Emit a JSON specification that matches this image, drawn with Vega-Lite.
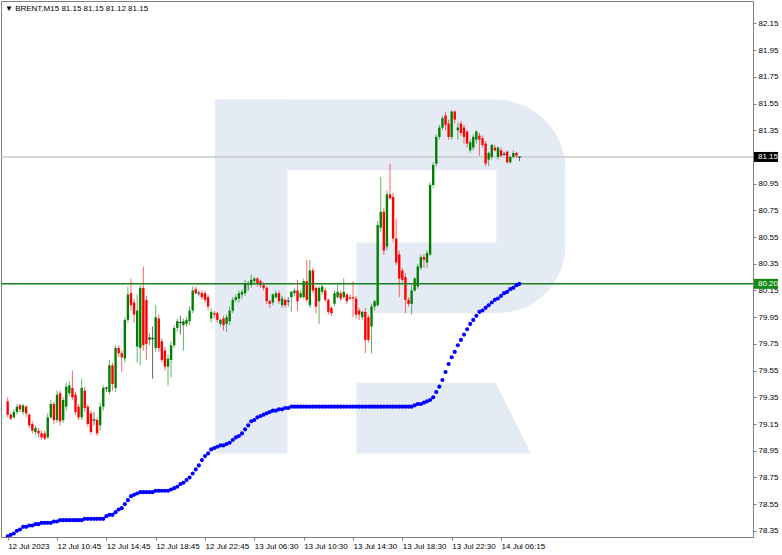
{
"$schema": "https://vega.github.io/schema/vega-lite/v6.json",
"width": 752, "height": 536,
"autosize": "none",
"padding": {"left": 1, "top": 1, "right": 29, "bottom": 18},
"background": "white",
"config": {"view": {"stroke": "#808080", "strokeWidth": 1}, "font": "Liberation Sans", "axis": {"labelOverlap": false, "labelSeparation": 0}},
"title": {"text": "▼ BRENT,M15  81.15 81.15 81.12 81.15", "anchor": "start", "frame": "group", "orient": "top", "offset": -16, "fontSize": 8, "fontWeight": "normal", "color": "#000000", "font": "Liberation Sans", "dx": 4, "baseline": "middle"},
"datasets": {
"logo": [
{"part": "bowl", "x1": 67.3, "x2": 180.9, "y1": 79.98, "y2": 81.58},
{"part": "stem", "x1": 67.3, "x2": 90.7, "y1": 78.93, "y2": 81.58},
{"part": "hole", "x1": 90.7, "x2": 158.5, "y1": 80.51, "y2": 81.05},
{"part": "hole", "x1": 90.7, "x2": 113.1, "y1": 79.98, "y2": 80.51},
{"part": "leg", "y": 79.46, "x1": 113.1, "x2": 158.2},
{"part": "leg", "y": 78.93, "x1": 113.1, "x2": 169.7}
],
"bars": [
{"i":0,"o":79.32,"h":79.35,"l":79.20,"c":79.22,"b":78.31},
{"i":1,"o":79.22,"h":79.23,"l":79.18,"c":79.19,"b":78.32},
{"i":2,"o":79.20,"h":79.26,"l":79.19,"c":79.24,"b":78.33},
{"i":3,"o":79.24,"h":79.30,"l":79.22,"c":79.28,"b":78.35},
{"i":4,"o":79.29,"h":79.30,"l":79.24,"c":79.26,"b":78.36},
{"i":5,"o":79.24,"h":79.30,"l":79.22,"c":79.29,"b":78.38},
{"i":6,"o":79.28,"h":79.29,"l":79.20,"c":79.23,"b":78.38},
{"i":7,"o":79.22,"h":79.23,"l":79.12,"c":79.14,"b":78.39},
{"i":8,"o":79.15,"h":79.17,"l":79.08,"c":79.10,"b":78.39},
{"i":9,"o":79.09,"h":79.14,"l":79.07,"c":79.12,"b":78.40},
{"i":10,"o":79.10,"h":79.12,"l":79.05,"c":79.08,"b":78.40},
{"i":11,"o":79.08,"h":79.10,"l":79.03,"c":79.05,"b":78.41},
{"i":12,"o":79.08,"h":79.10,"l":79.03,"c":79.04,"b":78.41},
{"i":13,"o":79.05,"h":79.23,"l":79.04,"c":79.20,"b":78.41},
{"i":14,"o":79.20,"h":79.33,"l":79.19,"c":79.30,"b":78.41},
{"i":15,"o":79.30,"h":79.32,"l":79.15,"c":79.18,"b":78.42},
{"i":16,"o":79.18,"h":79.40,"l":79.16,"c":79.37,"b":78.42},
{"i":17,"o":79.38,"h":79.40,"l":79.14,"c":79.17,"b":78.43},
{"i":18,"o":79.18,"h":79.35,"l":79.16,"c":79.33,"b":78.43},
{"i":19,"o":79.28,"h":79.46,"l":79.25,"c":79.43,"b":78.43},
{"i":20,"o":79.38,"h":79.47,"l":79.36,"c":79.44,"b":78.43},
{"i":21,"o":79.42,"h":79.55,"l":79.33,"c":79.35,"b":78.43},
{"i":22,"o":79.37,"h":79.39,"l":79.22,"c":79.24,"b":78.43},
{"i":23,"o":79.28,"h":79.30,"l":79.18,"c":79.20,"b":78.43},
{"i":24,"o":79.20,"h":79.49,"l":79.18,"c":79.42,"b":78.43},
{"i":25,"o":79.40,"h":79.43,"l":79.24,"c":79.27,"b":78.44},
{"i":26,"o":79.28,"h":79.30,"l":79.13,"c":79.15,"b":78.44},
{"i":27,"o":79.23,"h":79.25,"l":79.07,"c":79.09,"b":78.44},
{"i":28,"o":79.18,"h":79.24,"l":79.14,"c":79.18,"b":78.44},
{"i":29,"o":79.18,"h":79.20,"l":79.06,"c":79.08,"b":78.44},
{"i":30,"o":79.14,"h":79.31,"l":79.10,"c":79.28,"b":78.44},
{"i":31,"o":79.28,"h":79.44,"l":79.25,"c":79.42,"b":78.44},
{"i":32,"o":79.42,"h":79.43,"l":79.39,"c":79.42,"b":78.46},
{"i":33,"o":79.39,"h":79.63,"l":79.37,"c":79.59,"b":78.47},
{"i":34,"o":79.59,"h":79.61,"l":79.40,"c":79.45,"b":78.47},
{"i":35,"o":79.42,"h":79.74,"l":79.39,"c":79.72,"b":78.49},
{"i":36,"o":79.72,"h":79.74,"l":79.65,"c":79.68,"b":78.51},
{"i":37,"o":79.68,"h":79.70,"l":79.54,"c":79.65,"b":78.52},
{"i":38,"o":79.64,"h":79.95,"l":79.61,"c":79.93,"b":78.55},
{"i":39,"o":79.93,"h":80.18,"l":79.91,"c":80.12,"b":78.58},
{"i":40,"o":80.13,"h":80.24,"l":80.00,"c":80.04,"b":78.61},
{"i":41,"o":80.06,"h":80.09,"l":79.91,"c":79.97,"b":78.62},
{"i":42,"o":79.73,"h":80.12,"l":79.61,"c":80.00,"b":78.63},
{"i":43,"o":79.72,"h":80.19,"l":79.59,"c":80.17,"b":78.64},
{"i":44,"o":80.17,"h":80.33,"l":79.70,"c":79.74,"b":78.64},
{"i":45,"o":80.08,"h":80.11,"l":79.63,"c":79.75,"b":78.64},
{"i":46,"o":79.78,"h":79.83,"l":79.74,"c":79.80,"b":78.64},
{"i":47,"o":79.79,"h":79.88,"l":79.49,"c":79.79,"b":78.64},
{"i":48,"o":79.72,"h":80.04,"l":79.69,"c":79.95,"b":78.65},
{"i":49,"o":79.94,"h":79.97,"l":79.69,"c":79.72,"b":78.65},
{"i":50,"o":79.77,"h":79.79,"l":79.61,"c":79.63,"b":78.65},
{"i":51,"o":79.70,"h":79.73,"l":79.55,"c":79.58,"b":78.65},
{"i":52,"o":79.58,"h":79.67,"l":79.44,"c":79.64,"b":78.65},
{"i":53,"o":79.63,"h":79.77,"l":79.50,"c":79.74,"b":78.66},
{"i":54,"o":79.74,"h":79.89,"l":79.72,"c":79.87,"b":78.67},
{"i":55,"o":79.87,"h":79.94,"l":79.84,"c":79.92,"b":78.68},
{"i":56,"o":79.91,"h":79.96,"l":79.82,"c":79.91,"b":78.70},
{"i":57,"o":79.89,"h":79.94,"l":79.70,"c":79.92,"b":78.71},
{"i":58,"o":79.90,"h":79.95,"l":79.88,"c":79.93,"b":78.73},
{"i":59,"o":79.92,"h":80.03,"l":79.89,"c":80.00,"b":78.75},
{"i":60,"o":80.00,"h":80.18,"l":79.98,"c":80.15,"b":78.78},
{"i":61,"o":80.16,"h":80.18,"l":80.12,"c":80.13,"b":78.81},
{"i":62,"o":80.13,"h":80.15,"l":80.11,"c":80.13,"b":78.84},
{"i":63,"o":80.13,"h":80.15,"l":80.08,"c":80.10,"b":78.88},
{"i":64,"o":80.13,"h":80.15,"l":80.06,"c":80.08,"b":78.91},
{"i":65,"o":80.10,"h":80.12,"l":80.00,"c":80.03,"b":78.93},
{"i":66,"o":79.94,"h":80.02,"l":79.91,"c":79.99,"b":78.96},
{"i":67,"o":79.98,"h":80.00,"l":79.94,"c":79.97,"b":78.97},
{"i":68,"o":79.98,"h":79.99,"l":79.91,"c":79.93,"b":78.98},
{"i":69,"o":79.90,"h":79.94,"l":79.88,"c":79.93,"b":78.99},
{"i":70,"o":79.94,"h":79.96,"l":79.85,"c":79.89,"b":78.99},
{"i":71,"o":79.90,"h":79.97,"l":79.84,"c":79.95,"b":79.00},
{"i":72,"o":79.92,"h":80.03,"l":79.89,"c":80.00,"b":79.01},
{"i":73,"o":80.00,"h":80.10,"l":79.98,"c":80.08,"b":79.03},
{"i":74,"o":80.08,"h":80.12,"l":80.06,"c":80.10,"b":79.05},
{"i":75,"o":80.09,"h":80.15,"l":80.06,"c":80.13,"b":79.06},
{"i":76,"o":80.12,"h":80.16,"l":80.09,"c":80.14,"b":79.08},
{"i":77,"o":80.13,"h":80.23,"l":80.11,"c":80.20,"b":79.11},
{"i":78,"o":80.20,"h":80.22,"l":80.15,"c":80.20,"b":79.14},
{"i":79,"o":80.19,"h":80.27,"l":80.17,"c":80.23,"b":79.17},
{"i":80,"o":80.22,"h":80.25,"l":80.20,"c":80.24,"b":79.18},
{"i":81,"o":80.24,"h":80.25,"l":80.18,"c":80.20,"b":79.20},
{"i":82,"o":80.22,"h":80.23,"l":80.17,"c":80.19,"b":79.21},
{"i":83,"o":80.19,"h":80.21,"l":80.15,"c":80.17,"b":79.22},
{"i":84,"o":80.17,"h":80.18,"l":80.05,"c":80.07,"b":79.23},
{"i":85,"o":80.07,"h":80.08,"l":80.02,"c":80.05,"b":79.24},
{"i":86,"o":80.06,"h":80.13,"l":80.04,"c":80.12,"b":79.25},
{"i":87,"o":80.10,"h":80.15,"l":80.09,"c":80.13,"b":79.25},
{"i":88,"o":80.13,"h":80.15,"l":80.05,"c":80.07,"b":79.26},
{"i":89,"o":80.04,"h":80.11,"l":80.02,"c":80.09,"b":79.26},
{"i":90,"o":80.08,"h":80.09,"l":80.02,"c":80.04,"b":79.27},
{"i":91,"o":80.07,"h":80.10,"l":80.03,"c":80.07,"b":79.27},
{"i":92,"o":80.10,"h":80.15,"l":79.99,"c":80.14,"b":79.28},
{"i":93,"o":80.13,"h":80.17,"l":80.11,"c":80.15,"b":79.28},
{"i":94,"o":80.15,"h":80.23,"l":80.00,"c":80.07,"b":79.28},
{"i":95,"o":80.10,"h":80.15,"l":80.09,"c":80.13,"b":79.28},
{"i":96,"o":80.10,"h":80.24,"l":80.09,"c":80.22,"b":79.28},
{"i":97,"o":80.22,"h":80.38,"l":80.06,"c":80.08,"b":79.28},
{"i":98,"o":80.04,"h":80.38,"l":80.02,"c":80.30,"b":79.28},
{"i":99,"o":80.30,"h":80.32,"l":80.13,"c":80.15,"b":79.28},
{"i":100,"o":80.17,"h":80.18,"l":79.98,"c":80.03,"b":79.28},
{"i":101,"o":80.07,"h":80.18,"l":79.90,"c":80.17,"b":79.28},
{"i":102,"o":80.14,"h":80.20,"l":80.12,"c":80.18,"b":79.28},
{"i":103,"o":80.15,"h":80.17,"l":80.06,"c":80.08,"b":79.28},
{"i":104,"o":80.08,"h":80.09,"l":79.97,"c":79.99,"b":79.28},
{"i":105,"o":80.02,"h":80.03,"l":79.96,"c":79.98,"b":79.28},
{"i":106,"o":80.05,"h":80.15,"l":80.03,"c":80.13,"b":79.28},
{"i":107,"o":80.10,"h":80.20,"l":80.09,"c":80.14,"b":79.28},
{"i":108,"o":80.13,"h":80.15,"l":80.07,"c":80.09,"b":79.28},
{"i":109,"o":80.10,"h":80.24,"l":80.09,"c":80.14,"b":79.28},
{"i":110,"o":80.12,"h":80.13,"l":80.05,"c":80.07,"b":79.28},
{"i":111,"o":80.10,"h":80.12,"l":80.08,"c":80.09,"b":79.28},
{"i":112,"o":80.10,"h":80.22,"l":79.95,"c":80.09,"b":79.28},
{"i":113,"o":80.09,"h":80.11,"l":79.94,"c":79.97,"b":79.28},
{"i":114,"o":80.00,"h":80.02,"l":79.93,"c":79.97,"b":79.28},
{"i":115,"o":79.95,"h":80.00,"l":79.93,"c":79.99,"b":79.28},
{"i":116,"o":79.99,"h":80.02,"l":79.68,"c":79.78,"b":79.28},
{"i":117,"o":79.95,"h":79.97,"l":79.76,"c":79.78,"b":79.28},
{"i":118,"o":79.88,"h":80.05,"l":79.68,"c":80.03,"b":79.28},
{"i":119,"o":80.03,"h":80.08,"l":80.00,"c":80.07,"b":79.28},
{"i":120,"o":80.04,"h":80.67,"l":80.03,"c":80.64,"b":79.28},
{"i":121,"o":80.62,"h":81.00,"l":80.59,"c":80.74,"b":79.28},
{"i":122,"o":80.74,"h":80.77,"l":80.42,"c":80.45,"b":79.28},
{"i":123,"o":80.48,"h":80.90,"l":80.45,"c":80.87,"b":79.28},
{"i":124,"o":80.87,"h":81.10,"l":80.83,"c":80.84,"b":79.28},
{"i":125,"o":80.85,"h":80.88,"l":80.51,"c":80.54,"b":79.28},
{"i":126,"o":80.54,"h":80.69,"l":80.34,"c":80.36,"b":79.28},
{"i":127,"o":80.42,"h":80.45,"l":80.10,"c":80.24,"b":79.28},
{"i":128,"o":80.30,"h":80.32,"l":80.21,"c":80.23,"b":79.28},
{"i":129,"o":80.25,"h":80.28,"l":79.98,"c":80.08,"b":79.28},
{"i":130,"o":80.08,"h":80.10,"l":80.03,"c":80.05,"b":79.28},
{"i":131,"o":80.05,"h":80.19,"l":79.97,"c":80.15,"b":79.28},
{"i":132,"o":80.15,"h":80.25,"l":80.14,"c":80.24,"b":79.29},
{"i":133,"o":80.18,"h":80.35,"l":80.16,"c":80.33,"b":79.30},
{"i":134,"o":80.32,"h":80.42,"l":80.30,"c":80.40,"b":79.30},
{"i":135,"o":80.40,"h":80.42,"l":80.32,"c":80.38,"b":79.31},
{"i":136,"o":80.36,"h":80.45,"l":80.32,"c":80.43,"b":79.32},
{"i":137,"o":80.42,"h":80.96,"l":80.41,"c":80.94,"b":79.33},
{"i":138,"o":80.94,"h":81.11,"l":80.92,"c":81.09,"b":79.35},
{"i":139,"o":81.10,"h":81.32,"l":81.08,"c":81.30,"b":79.39},
{"i":140,"o":81.30,"h":81.39,"l":81.28,"c":81.37,"b":79.43},
{"i":141,"o":81.37,"h":81.46,"l":81.35,"c":81.44,"b":79.48},
{"i":142,"o":81.46,"h":81.49,"l":81.35,"c":81.39,"b":79.54},
{"i":143,"o":81.40,"h":81.43,"l":81.28,"c":81.30,"b":79.60},
{"i":144,"o":81.30,"h":81.50,"l":81.28,"c":81.49,"b":79.65},
{"i":145,"o":81.49,"h":81.50,"l":81.40,"c":81.43,"b":79.69},
{"i":146,"o":81.35,"h":81.41,"l":81.28,"c":81.37,"b":79.74},
{"i":147,"o":81.40,"h":81.42,"l":81.31,"c":81.33,"b":79.78},
{"i":148,"o":81.37,"h":81.39,"l":81.25,"c":81.30,"b":79.82},
{"i":149,"o":81.34,"h":81.35,"l":81.22,"c":81.25,"b":79.86},
{"i":150,"o":81.20,"h":81.28,"l":81.18,"c":81.26,"b":79.90},
{"i":151,"o":81.22,"h":81.32,"l":81.20,"c":81.30,"b":79.93},
{"i":152,"o":81.28,"h":81.35,"l":81.25,"c":81.34,"b":79.96},
{"i":153,"o":81.31,"h":81.33,"l":81.16,"c":81.28,"b":79.99},
{"i":154,"o":81.29,"h":81.31,"l":81.22,"c":81.24,"b":80.00},
{"i":155,"o":81.25,"h":81.27,"l":81.08,"c":81.10,"b":80.02},
{"i":156,"o":81.13,"h":81.19,"l":81.08,"c":81.18,"b":80.04},
{"i":157,"o":81.15,"h":81.25,"l":81.13,"c":81.24,"b":80.06},
{"i":158,"o":81.22,"h":81.24,"l":81.19,"c":81.20,"b":80.08},
{"i":159,"o":81.15,"h":81.23,"l":81.13,"c":81.22,"b":80.09},
{"i":160,"o":81.20,"h":81.22,"l":81.15,"c":81.16,"b":80.11},
{"i":161,"o":81.17,"h":81.19,"l":81.16,"c":81.17,"b":80.13},
{"i":162,"o":81.19,"h":81.20,"l":81.10,"c":81.11,"b":80.14},
{"i":163,"o":81.11,"h":81.16,"l":81.10,"c":81.15,"b":80.16},
{"i":164,"o":81.15,"h":81.20,"l":81.14,"c":81.18,"b":80.17},
{"i":165,"o":81.18,"h":81.19,"l":81.14,"c":81.16,"b":80.19},
{"i":166,"o":81.15,"h":81.15,"l":81.12,"c":81.15,"b":80.20}
]
},
"layer": [
{
"data": {"name": "logo"},
"transform": [{"filter": "datum.part == 'bowl'"}],
"mark": {"type": "rect", "color": "#e5ebf4", "cornerRadiusTopRight": 70, "cornerRadiusBottomRight": 68, "clip": true},
"encoding": {
"x": {"field": "x1", "type": "quantitative", "scale": {"domain": [-0.54, 240.1], "nice": false, "zero": false},
"axis": {"title": null, "orient": "bottom", "values": [0,16,32,48,64,80,96,112,128,144,160], "tickCount": 40,
"labelExpr": "['12 Jul 2023','12 Jul 10:45','12 Jul 14:45','12 Jul 18:45','12 Jul 22:45','13 Jul 06:30','13 Jul 10:30','13 Jul 14:30','13 Jul 18:30','13 Jul 22:30','14 Jul 06:15'][round(datum.value/16)]",
"labelAlign": "left", "labelBaseline": "top", "labelPadding": 2, "tickSize": 3, "tickColor": "#808080", "domainColor": "#808080", "labelColor": "#000000", "labelFont": "Liberation Sans", "labelFontSize": 8, "grid": false, "labelFlush": false, "labelOverlap": false}},
"x2": {"field": "x2"},
"y": {"field": "y1", "type": "quantitative", "scale": {"domain": [78.304, 82.318], "nice": false, "zero": false},
"axis": {"title": null, "orient": "right", "values": [78.35,78.55,78.75,78.95,79.15,79.35,79.55,79.75,79.95,80.15,80.35,80.55,80.75,80.95,81.15,81.35,81.55,81.75,81.95,82.15], "tickCount": 40,
"format": ".2f", "labelAlign": "left", "labelBaseline": "middle", "tickSize": 3, "labelPadding": 2, "tickColor": "#808080", "domainColor": "#808080", "labelColor": "#000000", "labelFont": "Liberation Sans", "labelFontSize": 8, "grid": false, "labelOverlap": false, "labelSeparation": 0}},
"y2": {"field": "y2"}
}
},
{
"data": {"name": "logo"},
"transform": [{"filter": "datum.part == 'stem'"}],
"mark": {"type": "rect", "color": "#e5ebf4", "clip": true},
"encoding": {"x": {"field": "x1", "type": "quantitative"}, "x2": {"field": "x2"}, "y": {"field": "y1", "type": "quantitative"}, "y2": {"field": "y2"}}
},
{
"data": {"name": "logo"},
"transform": [{"filter": "datum.part == 'hole'"}],
"mark": {"type": "rect", "color": "#ffffff", "clip": true},
"encoding": {"x": {"field": "x1", "type": "quantitative"}, "x2": {"field": "x2"}, "y": {"field": "y1", "type": "quantitative"}, "y2": {"field": "y2"}}
},
{
"data": {"name": "logo"},
"transform": [{"filter": "datum.part == 'leg'"}],
"mark": {"type": "area", "orient": "horizontal", "color": "#e5ebf4", "opacity": 1, "clip": true},
"encoding": {"y": {"field": "y", "type": "quantitative"}, "x": {"field": "x1", "type": "quantitative"}, "x2": {"field": "x2"}}
},
{
"data": {"name": "bars"},
"transform": [{"filter": "datum.i == 166"}],
"mark": {"type": "rule", "color": "#c8c8c8", "strokeWidth": 1.5},
"encoding": {"y": {"field": "c", "type": "quantitative"}}
},
{
"data": {"name": "bars"},
"mark": {"type": "rule", "strokeWidth": 1, "opacity": 0.6, "clip": true},
"encoding": {
"x": {"field": "i", "type": "quantitative"},
"y": {"field": "l", "type": "quantitative"},
"y2": {"field": "h"},
"color": {"condition": [{"test": "datum.c > datum.o", "value": "#008000"}, {"test": "datum.c < datum.o", "value": "#ff0000"}], "value": "#000000"}
}
},
{
"data": {"name": "bars"},
"mark": {"type": "bar", "width": 2.4, "clip": true},
"encoding": {
"x": {"field": "i", "type": "quantitative"},
"y": {"field": "o", "type": "quantitative"},
"y2": {"field": "c"},
"color": {"condition": [{"test": "datum.c > datum.o", "value": "#008000"}, {"test": "datum.c < datum.o", "value": "#ff0000"}], "value": "#000000"}
}
},
{
"data": {"name": "bars"},
"transform": [{"filter": "datum.c == datum.o"}],
"mark": {"type": "tick", "orient": "horizontal", "thickness": 1, "size": 3.5, "color": "#000000", "clip": true},
"encoding": {"x": {"field": "i", "type": "quantitative"}, "y": {"field": "c", "type": "quantitative"}}
},
{
"data": {"name": "bars"},
"transform": [{"filter": "datum.i == 166"}],
"mark": {"type": "rule", "color": "#1b7f1b", "strokeWidth": 1.6},
"encoding": {"y": {"field": "b", "type": "quantitative"}}
},
{
"data": {"name": "bars"},
"mark": {"type": "point", "filled": true, "size": 17, "opacity": 1, "color": "#0000ff", "clip": true},
"encoding": {"x": {"field": "i", "type": "quantitative"}, "y": {"field": "b", "type": "quantitative"}}
},
{
"data": {"name": "bars"},
"transform": [{"filter": "datum.i == 166"}],
"mark": {"type": "rect", "color": "#000000", "xOffset": 1, "x2Offset": 25, "yOffset": -5, "y2Offset": 5},
"encoding": {"x": {"value": "width"}, "x2": {"value": "width"}, "y": {"field": "c", "type": "quantitative"}, "y2": {"field": "c"}}
},
{
"data": {"name": "bars"},
"transform": [{"filter": "datum.i == 166"}],
"mark": {"type": "rect", "color": "#138a13", "xOffset": 1, "x2Offset": 25, "yOffset": -5, "y2Offset": 5},
"encoding": {"x": {"value": "width"}, "x2": {"value": "width"}, "y": {"field": "b", "type": "quantitative"}, "y2": {"field": "b"}}
},
{
"data": {"name": "bars"},
"transform": [{"filter": "datum.i == 166"}],
"mark": {"type": "text", "align": "left", "baseline": "middle", "dx": 5, "color": "#ffffff", "font": "Liberation Sans", "fontSize": 8},
"encoding": {"x": {"value": "width"}, "y": {"field": "c", "type": "quantitative"}, "text": {"field": "c", "type": "quantitative", "format": ".2f"}}
},
{
"data": {"name": "bars"},
"transform": [{"filter": "datum.i == 166"}],
"mark": {"type": "text", "align": "left", "baseline": "middle", "dx": 5, "color": "#ffffff", "font": "Liberation Sans", "fontSize": 8},
"encoding": {"x": {"value": "width"}, "y": {"field": "b", "type": "quantitative"}, "text": {"field": "b", "type": "quantitative", "format": ".2f"}}
}
]
}
